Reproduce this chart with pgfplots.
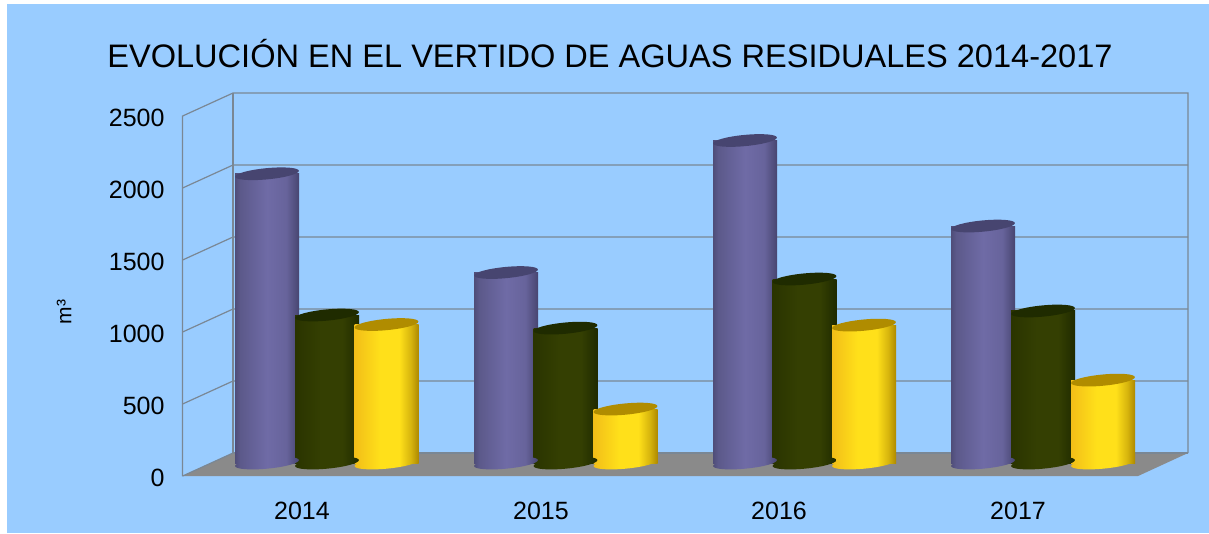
\documentclass[border=0pt]{standalone}
\usepackage{pgfplots}
\usepackage{pgfplotstable}
\usepackage{fontspec}
\setmainfont{Liberation Sans}
\pgfplotsset{compat=1.18}
\definecolor{panel}{HTML}{99CCFF}
\definecolor{wall}{HTML}{7A8794}
\definecolor{floorc}{HTML}{8A8A8A}
\definecolor{btop}{HTML}{474570}
\definecolor{dtop}{HTML}{1F2B00}
\definecolor{ytop}{HTML}{B08C00}
\definecolor{b0}{HTML}{4F4D78}\definecolor{b1}{HTML}{6F6BA6}\definecolor{b2}{HTML}{474570}
\definecolor{d0}{HTML}{2A3400}\definecolor{d1}{HTML}{343F02}\definecolor{d2}{HTML}{1F2A00}
\definecolor{y0}{HTML}{F2BE18}\definecolor{y1}{HTML}{FFE01A}\definecolor{y2}{HTML}{AE8900}
\pgfdeclarehorizontalshading{cylb}{100bp}{color(0bp)=(b0);color(25bp)=(b0);color(29bp)=(b0!60!b1);color(50bp)=(b1);color(65bp)=(b1!80!b2);color(75bp)=(b2);color(100bp)=(b2)}
\pgfdeclarehorizontalshading{cyld}{100bp}{color(0bp)=(d0);color(25bp)=(d0);color(45bp)=(d1);color(62bp)=(d1);color(75bp)=(d2);color(100bp)=(d2)}
\pgfdeclarehorizontalshading{cyly}{100bp}{color(0bp)=(y0);color(25bp)=(y0);color(45bp)=(y1);color(60bp)=(y1);color(69bp)=(y2!50!y1);color(75bp)=(y2);color(100bp)=(y2)}
\pgfdeclareplotmark{captop}{\pgfpathellipse{\pgfpointorigin}{\pgfqpoint{31.9pt}{3pt}}{\pgfqpoint{-0.4pt}{5.6pt}}\pgfusepathqfill}
\pgfdeclareplotmark{baseb}{\pgfpathellipse{\pgfpointorigin}{\pgfqpoint{31.9pt}{3pt}}{\pgfqpoint{-0.4pt}{5.6pt}}\pgfshadepath{cylb}{0}\pgfusepath{discard}}
\pgfdeclareplotmark{based}{\pgfpathellipse{\pgfpointorigin}{\pgfqpoint{31.9pt}{3pt}}{\pgfqpoint{-0.4pt}{5.6pt}}\pgfshadepath{cyld}{0}\pgfusepath{discard}}
\pgfdeclareplotmark{basey}{\pgfpathellipse{\pgfpointorigin}{\pgfqpoint{31.9pt}{3pt}}{\pgfqpoint{-0.4pt}{5.6pt}}\pgfshadepath{cyly}{0}\pgfusepath{discard}}
\pgfplotstableread{
x y
267 2009
506 1323
745 2240
983 1646
}\tblue
\pgfplotstableread{
x y
327 1028
565.5 937
804.5 1278
1043 1056
}\tdark
\pgfplotstableread{
x y
386.5 962
625.5 375
864 958
1103 576
}\tyellow
% one cylinder: row #1 of table #2
\newcommand\onebar[3]{%
 \addplot[ybar,bar width=64pt,bar shift=0pt,draw=none,shade,shading=#3,yshift=13pt,forget plot,
   skip coords between index={0}{#1},skip coords between index={\numexpr#1+1\relax}{4}] table[x=x,y=y]{#2};
}
\newcommand\cyl[4]{%
 \onebar{0}{#1}{#2}\onebar{1}{#1}{#2}\onebar{2}{#1}{#2}\onebar{3}{#1}{#2}
 \addplot[only marks,mark=#3,yshift=13pt,forget plot] table[x=x,y expr=0]{#1};
 \addplot[only marks,mark=captop,color=#4,yshift=13pt,forget plot] table[x=x,y=y]{#1};
}
\begin{document}
\begin{tikzpicture}
\begin{axis}[
 scale only axis,width=955pt,height=360pt,
 xmin=183,xmax=1138,ymin=0,ymax=2500,clip=false,axis on top,
 axis line style={draw=none},
 major tick length=0pt,
 xtick={302,541,779,1018},xticklabels={2014,2015,2016,2017},
 ytick={0,500,1000,1500,2000,2500},
 /pgf/number format/assume math mode=true,
 /pgf/number format/1000 sep={},
 tick label style={font=\fontsize{25}{30}\selectfont,black},
 xticklabel style={yshift=-22pt},
 yticklabel style={xshift=-15pt,yshift=-1.5pt},
 ylabel={m³},
 every axis y label/.style={at={(axis cs:64,1139)},rotate=90,anchor=center,font=\fontsize{21}{25}\selectfont},
]
% page and panel
\addplot[fill=white,draw=none,forget plot] coordinates {(0,-396)(1209,-396)(1209,3306)(0,3306)} --cycle;
\addplot[fill=panel,draw=none,forget plot] coordinates {(7,-396)(1209,-396)(1209,3278)(7,3278)} --cycle;
% floor
\addplot[fill=floorc,draw=none,forget plot] coordinates {(183,0)(233,160)(1188,160)(1138,0)} --cycle;
% walls
\addplot[wall,line width=1.2pt,forget plot] coordinates {(182.5,0)(182.5,2500)(233,2660)(1188,2660)(1188,160)};
\addplot[wall,line width=1.2pt,forget plot] coordinates {(233,2660)(233,160)(1188,160)};
\addplot[wall,line width=1.2pt,forget plot] coordinates {(182.5,0)(233,160)};
\addplot[wall,line width=1.2pt,forget plot] coordinates {(182.5,500)(233,660)(1188,660)};
\addplot[wall,line width=1.2pt,forget plot] coordinates {(182.5,1000)(233,1160)(1188,1160)};
\addplot[wall,line width=1.2pt,forget plot] coordinates {(182.5,1500)(233,1660)(1188,1660)};
\addplot[wall,line width=1.2pt,forget plot] coordinates {(182.5,2000)(233,2160)(1188,2160)};
\cyl{\tblue}{cylb}{baseb}{btop}
\cyl{\tdark}{cyld}{based}{dtop}
\cyl{\tyellow}{cyly}{basey}{ytop}
\node[font=\fontsize{32.55}{40}\selectfont,black,inner sep=0pt] at (axis cs:610,2931) {EVOLUCIÓN EN EL VERTIDO DE AGUAS RESIDUALES 2014-2017};
\end{axis}
\end{tikzpicture}
\end{document}
